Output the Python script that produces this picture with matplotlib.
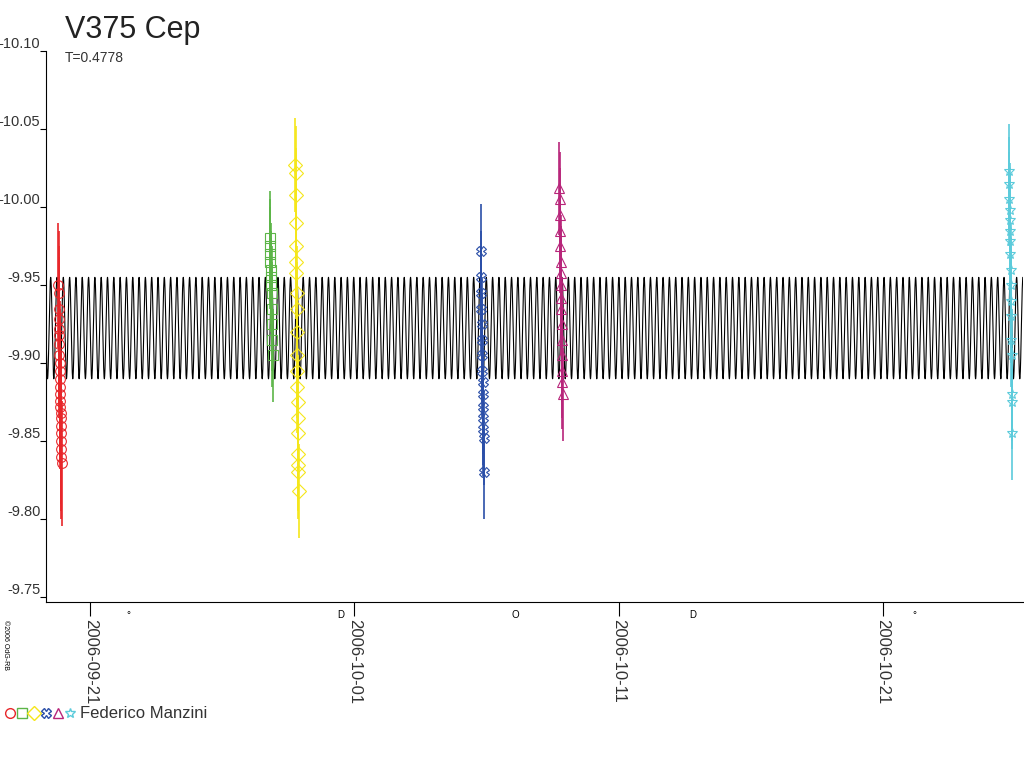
import matplotlib

matplotlib.use("Agg")
import matplotlib.pyplot as plt
import numpy as np

plt.rcParams["font.family"] = ["Liberation Sans", "DejaVu Sans"]

# days relative to 2006-09-21
PERIOD = 0.4778
MEAN_MAG = -9.9225
AMP = 0.0325
X_MIN, X_MAX = -1.67, 35.3

tick_days = [0, 10, 20, 30]
tick_labels = ["2006-09-21", "2006-10-01", "2006-10-11", "2006-10-21"]
moon_days = [1.45, 9.5, 16.1, 22.8, 31.2]
moon_marks = ["°", "D", "O", "D", "°"]

red_t = -1.14
red_mag = [-9.950, -9.945, -9.935, -9.928, -9.922, -9.918, -9.912, -9.905, -9.900, -9.895,
           -9.890, -9.885, -9.880, -9.876, -9.872, -9.868, -9.865, -9.860, -9.855, -9.850,
           -9.845, -9.840, -9.836]
green_t = 6.85
green_mag = [-9.980, -9.975, -9.970, -9.965, -9.960, -9.955, -9.950, -9.945, -9.935, -9.925,
             -9.915, -9.905]
yellow_t = 7.83
yellow_mag = [-10.027, -10.022, -10.008, -9.990, -9.975, -9.965, -9.958, -9.945, -9.935,
              -9.920, -9.905, -9.895, -9.885, -9.875, -9.865, -9.855, -9.842, -9.835, -9.830,
              -9.818]
blue_t = 14.84
blue_mag = [-9.972, -9.955, -9.945, -9.935, -9.925, -9.915, -9.905, -9.895, -9.888, -9.880,
            -9.872, -9.865, -9.858, -9.852, -9.830]
magenta_t = 17.82
magenta_mag = [-10.012, -10.005, -9.995, -9.985, -9.975, -9.965, -9.958, -9.950, -9.942,
               -9.935, -9.925, -9.915, -9.905, -9.895, -9.888, -9.880]
cyan_t = 34.83
cyan_mag = [-10.023, -10.015, -10.005, -9.998, -9.992, -9.985, -9.978, -9.970, -9.960,
            -9.950, -9.940, -9.930, -9.915, -9.905, -9.880, -9.875, -9.855]

groups = [
    (red_t, red_mag, "o", "#e8262a", 0.04),
    (green_t, green_mag, "s", "#5cb548", 0.03),
    (yellow_t, yellow_mag, "D", "#f5e61a", 0.03),
    (blue_t, blue_mag, "X", "#2b4fa8", 0.03),
    (magenta_t, magenta_mag, "^", "#b8257a", 0.03),
    (cyan_t, cyan_mag, "*", "#5ccbdb", 0.03),
]

fig = plt.figure(figsize=(10.24, 7.68), dpi=100)
ax = fig.add_axes([46 / 1024, 166 / 768, 977 / 1024, 551 / 768])

t = np.linspace(X_MIN, X_MAX, 40000)
ax.plot(t, MEAN_MAG + AMP * np.sin(4 * np.pi * t / PERIOD), color="black", lw=0.8)

for tc, mags, mk, col, err in groups:
    n = len(mags)
    xs = tc + np.linspace(-0.06, 0.06, n)
    ax.errorbar(xs, mags, yerr=err, fmt=mk, mfc="none", mec=col, ecolor=col,
                ms=7, mew=0.8, elinewidth=1.2, capsize=0)

ax.set_xlim(X_MIN, X_MAX)
ax.set_ylim(-9.747, -10.10)
ax.set_yticks([-10.10, -10.05, -10.00, -9.95, -9.90, -9.85, -9.80, -9.75])
ax.set_yticklabels(["-10.10", "-10.05", "-10.00", "-9.95", "-9.90", "-9.85", "-9.80", "-9.75"],
                   fontsize=10.5, color="#333333")
ax.set_xticks(tick_days)
ax.set_xticklabels(tick_labels, rotation=270, fontsize=12, color="#333333")
ax.tick_params(axis="x", length=10, direction="out", pad=2)
ax.tick_params(axis="y", length=4, direction="out", pad=0)
for lab in ax.get_yticklabels():
    lab.set_verticalalignment("bottom")
for s in ["top", "right"]:
    ax.spines[s].set_visible(False)

for d, m in zip(moon_days, moon_marks):
    ax.text(d, -9.742, m, fontsize=7, ha="center", va="top")

fig.text(65 / 1024, 1 - 30 / 768, "V375 Cep", fontsize=22, va="center", color="#222222")
fig.text(65 / 1024, 1 - 58 / 768, "T=0.4778", fontsize=10, va="center", color="#333333")
fig.text(5 / 1024, 1 - 645 / 768, "©2006 OdG-RB", fontsize=5, rotation=270,
         ha="center", va="center")

legend_cols = ["#e8262a", "#5cb548", "#f5e61a", "#2b4fa8", "#b8257a", "#5ccbdb"]
legend_marks = ["o", "s", "D", "X", "^", "*"]
for i, (c, m) in enumerate(zip(legend_cols, legend_marks)):
    fig.lines.append(matplotlib.lines.Line2D([(10 + i * 12) / 1024], [1 - 713 / 768],
                                             marker=m, mfc="none", mec=c, ms=7,
                                             transform=fig.transFigure))
fig.text(80 / 1024, 1 - 713 / 768, "Federico Manzini", fontsize=12, va="center",
         color="#333333")

fig.savefig("out.png", dpi=100)
